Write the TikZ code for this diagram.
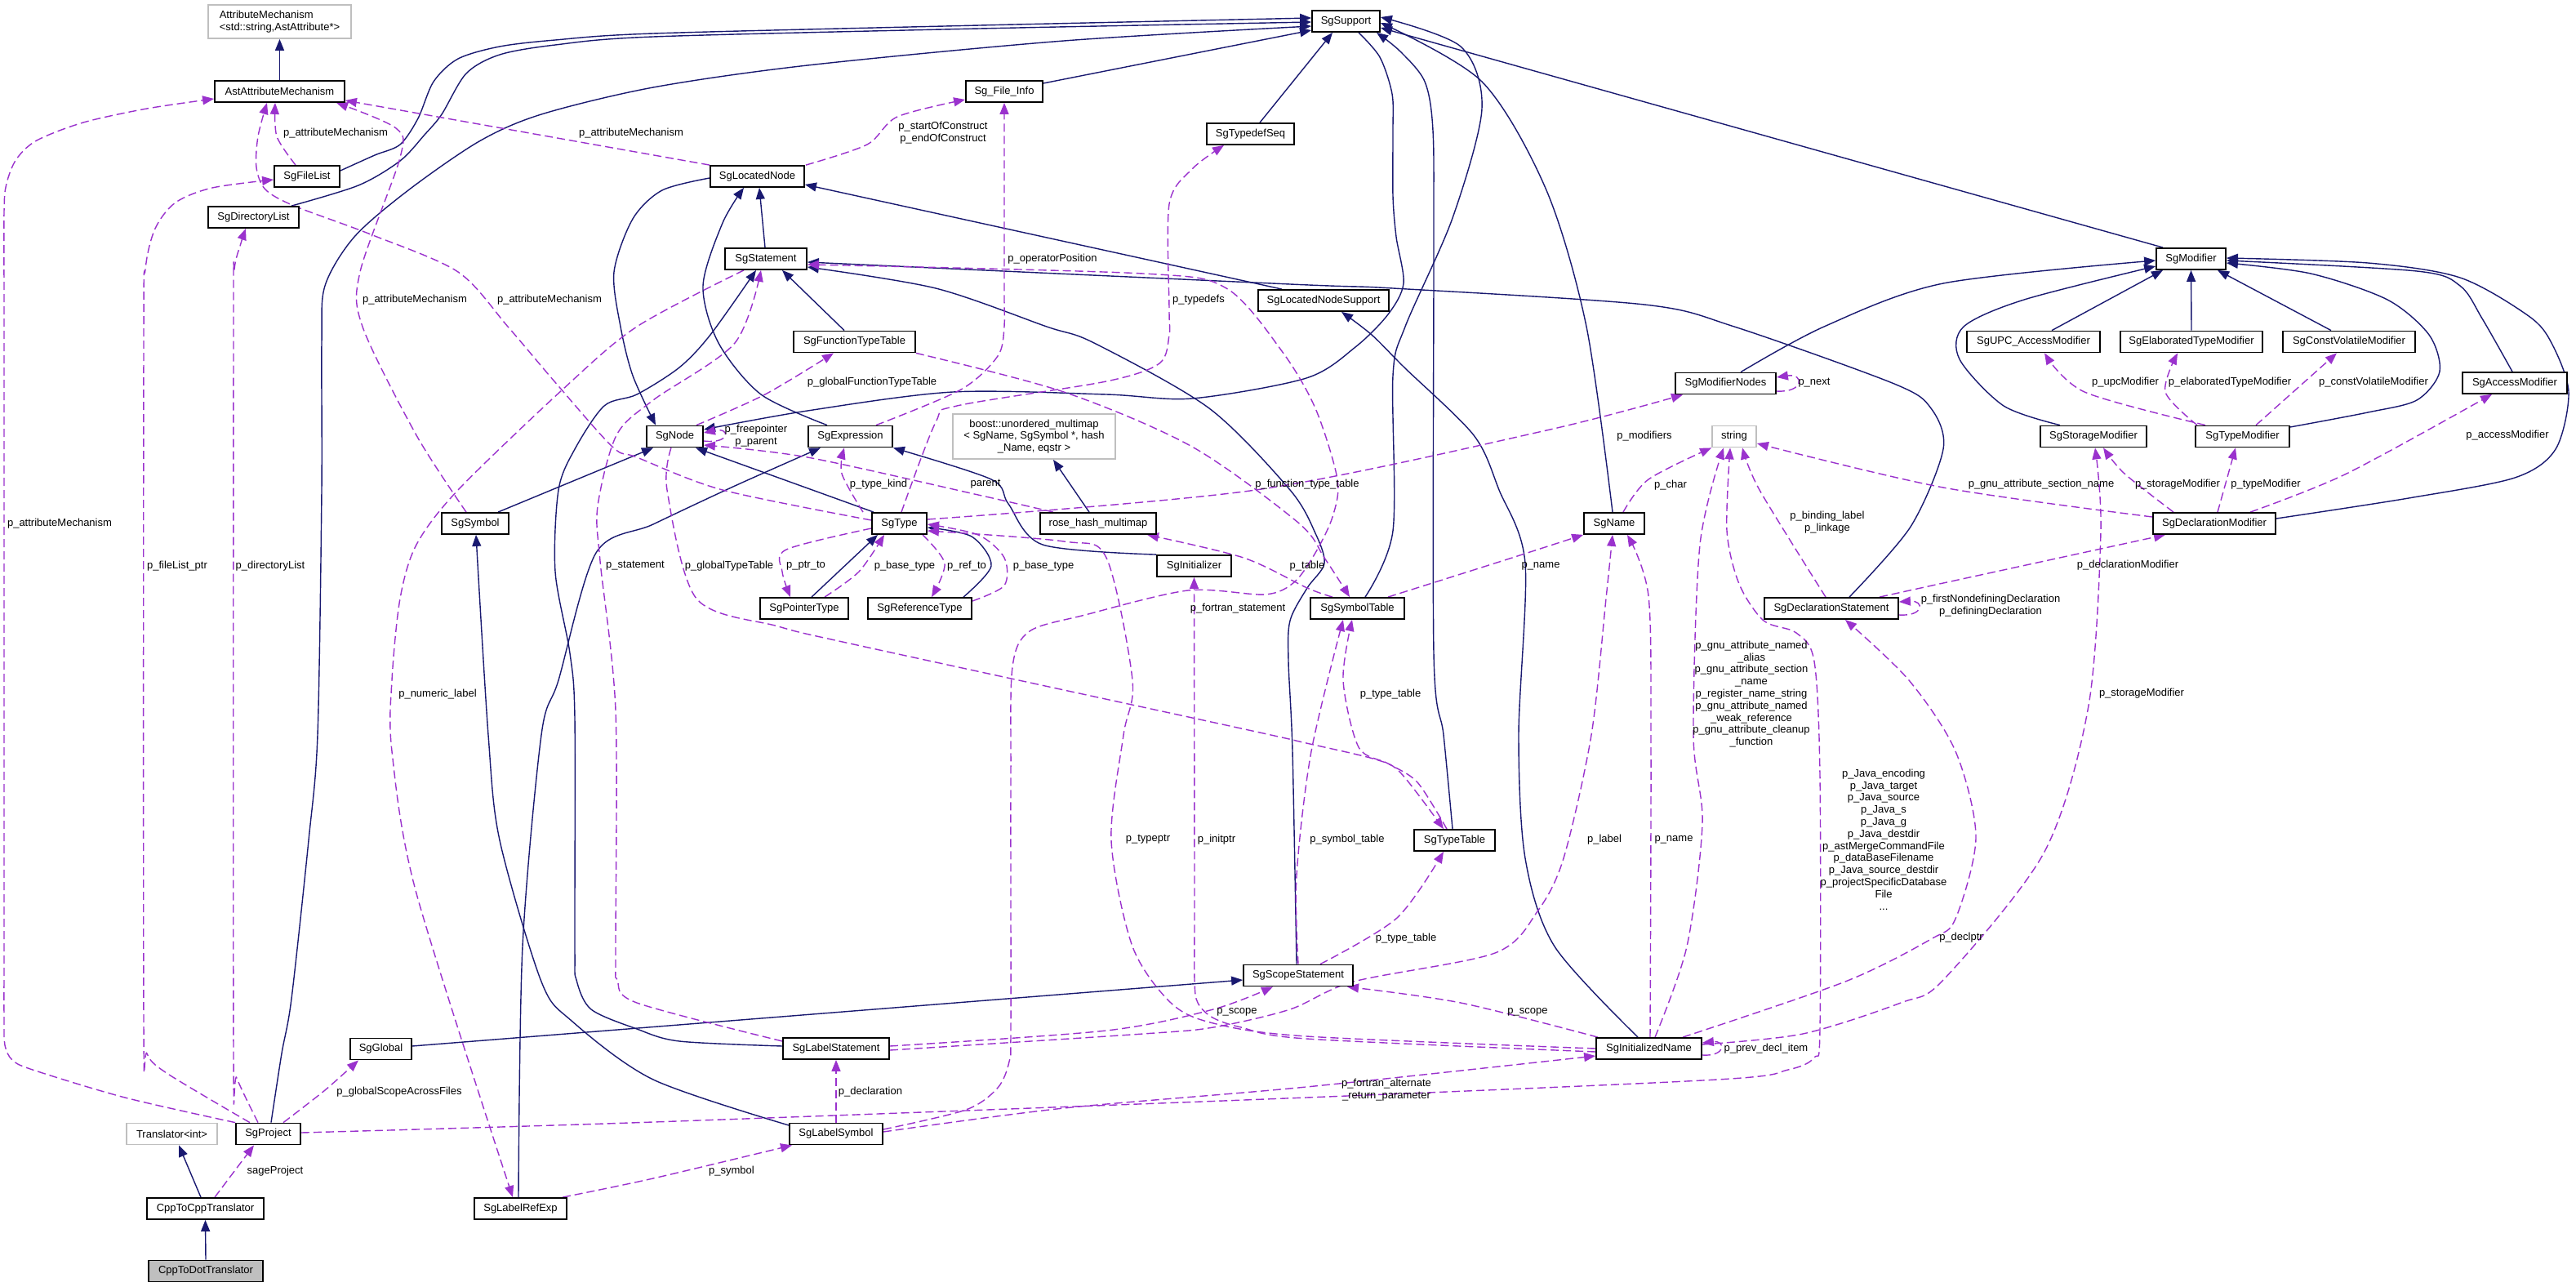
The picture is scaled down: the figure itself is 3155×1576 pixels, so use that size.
\documentclass[tikz,border=0pt]{standalone}
\usepackage{fontspec}
\setmainfont{Liberation Sans}
\usetikzlibrary{arrows.meta}
\definecolor{mblue}{HTML}{191970}
\definecolor{dorch}{HTML}{9A32CD}
\definecolor{gbox}{HTML}{BFBFBF}
\pgfdeclarelayer{bg}
\pgfsetlayers{bg,main}
\newcommand{\dfont}{\fontsize{13}{14.8}\selectfont}
\tikzset{
 cls/.style={draw=black, line width=1.8pt, fill=white, minimum height=26pt, inner sep=2pt, font=\dfont},
 ext/.style={cls, draw=gbox},
 cur/.style={cls, fill=gbox},
 lbl/.style={font=\dfont, inner sep=0pt, align=center, text=black},
 inh/.style={draw=mblue, line width=1.4pt, -{Triangle[length=14pt,width=11pt]}},
 dep/.style={draw=dorch, line width=1.4pt, dash pattern=on 10pt off 5pt, -{Triangle[length=14pt,width=11pt]}},
}
\begin{document}
\begin{tikzpicture}[x=1pt,y=-1pt]
\useasboundingbox (0,0) rectangle (3155,1576);
% ---------------- nodes
\node[ext, minimum width=175pt, minimum height=41pt, align=left] (attrmech) at (342.5,26.5) {AttributeMechanism\\<std::string,AstAttribute*>};
\node[cls, minimum width=159pt] (astattr) at (342.5,112) {AstAttributeMechanism};
\node[cls, minimum width=80pt] (filelist) at (376,216) {SgFileList};
\node[cls, minimum width=111pt] (dirlist) at (310.5,266) {SgDirectoryList};
\node[cls, minimum width=83pt] (sgsupport) at (1648.5,26) {SgSupport};
\node[cls, minimum width=94pt] (fileinfo) at (1230,112) {Sg\_File\_Info};
\node[cls, minimum width=107pt] (typedefseq) at (1531.5,164) {SgTypedefSeq};
\node[cls, minimum width=115pt] (locnode) at (927.5,216) {SgLocatedNode};
\node[cls, minimum width=100pt] (statement) at (938,317) {SgStatement};
\node[cls, minimum width=160pt] (locnodesup) at (1621,368) {SgLocatedNodeSupport};
\node[cls, minimum width=149pt] (functypetable) at (1046.5,418.5) {SgFunctionTypeTable};
\node[cls, minimum width=69pt] (sgnode) at (826.5,534.5) {SgNode};
\node[cls, minimum width=103pt] (expression) at (1041.5,534.5) {SgExpression};
\node[ext, minimum width=199pt, minimum height=55pt, align=center] (boost) at (1266.5,534.5) {boost::unordered\_multimap\\< SgName, SgSymbol *, hash\\\_Name, eqstr >};
\node[cls, minimum width=67pt] (sgtype) at (1101.5,641) {SgType};
\node[cls, minimum width=142pt] (rosehash) at (1345,641) {rose\_hash\_multimap};
\node[cls, minimum width=82pt] (sgsymbol) at (582,641) {SgSymbol};
\node[cls, minimum width=91pt] (initializer) at (1462.5,693) {SgInitializer};
\node[cls, minimum width=108pt] (pointertype) at (985,745) {SgPointerType};
\node[cls, minimum width=127pt] (referencetype) at (1126.5,745) {SgReferenceType};
\node[cls, minimum width=123pt] (modnodes) at (2113.5,469.5) {SgModifierNodes};
\node[ext, minimum width=54pt] (string) at (2124,534.5) {string};
\node[cls, minimum width=74pt] (sgname) at (1977,641) {SgName};
\node[cls, minimum width=115pt] (symtable) at (1662.5,745) {SgSymbolTable};
\node[cls, minimum width=164pt] (declstmt) at (2243,745) {SgDeclarationStatement};
\node[cls, minimum width=85pt] (sgmodifier) at (2683.5,317) {SgModifier};
\node[cls, minimum width=163pt] (upc) at (2490.5,418.5) {SgUPC\_AccessModifier};
\node[cls, minimum width=174pt] (elab) at (2684,418.5) {SgElaboratedTypeModifier};
\node[cls, minimum width=162pt] (cv) at (2877,418.5) {SgConstVolatileModifier};
\node[cls, minimum width=128pt] (access) at (3080,469) {SgAccessModifier};
\node[cls, minimum width=130pt] (storage) at (2564,534.5) {SgStorageModifier};
\node[cls, minimum width=115pt] (typemod) at (2746.5,534.5) {SgTypeModifier};
\node[cls, minimum width=150pt] (declmod) at (2712,641) {SgDeclarationModifier};
\node[cls, minimum width=99pt] (typetable) at (1781.5,1029) {SgTypeTable};
\node[cls, minimum width=134pt] (scopestmt) at (1590,1194.5) {SgScopeStatement};
\node[cls, minimum width=129pt] (initname) at (2019.5,1284) {SgInitializedName};
\node[cls, minimum width=75pt] (sgglobal) at (466.5,1284.5) {SgGlobal};
\node[cls, minimum width=130pt] (labelstmt) at (1024,1284) {SgLabelStatement};
\node[ext, minimum width=111pt] (translator) at (210.5,1388.5) {Translator<int>};
\node[cls, minimum width=79pt] (sgproject) at (328.5,1388.5) {SgProject};
\node[cls, minimum width=114pt] (labelsymbol) at (1024,1388.5) {SgLabelSymbol};
\node[cls, minimum width=143pt] (cpp2cpp) at (251.5,1480) {CppToCppTranslator};
\node[cls, minimum width=113pt] (labelrefexp) at (637.5,1480) {SgLabelRefExp};
\node[cur, minimum width=140pt] (cpp2dot) at (252,1556.5) {CppToDotTranslator};
% ---------------- edges
\begin{pgfonlayer}{bg}
\fill[white] (0,0) rectangle (3155,1576);
% inheritance
\draw[inh] (astattr.north) -- (attrmech.south);
\draw[inh] plot[smooth] coordinates {(filelist.east |- 0,209) (459,190) (490,177) (512,145) (531,100) (561,72) (612,57) (680,49) (800,41) (1200,31) (sgsupport.west |- 0,22)};
\draw[inh] plot[smooth] coordinates {(dirlist.north -| 357,0) (439,227) (490,197) (520,165) (541,140) (571,90) (612,67) (680,55) (800,45) (1200,35) (sgsupport.west |- 0,27)};
\draw[inh] plot[smooth] coordinates {(sgproject.north -| 332,0) (345,1290) (357,1223) (378,1029) (389,900) (394,600) (394,420) (398,350) (434,290) (500,233) (587,173) (663,140) (800,107) (989,80) (1303,50) (sgsupport.west |- 0,32)};
\draw[inh] (fileinfo.east |- 0,102) -- (sgsupport.west |- 0,37);
\draw[inh] (typedefseq.north -| 1543,0) -- (sgsupport.south -| 1632,0);
\draw[inh] plot[smooth] coordinates {(sgsupport.south -| 1664,0) (1690,70) (1705,115) (1706,160) (1706,240) (1710,290) (1719,347) (1700,385) (1660,425) (1600,463) (1460,488) (1355,483) (1167,480) (989,503) (sgnode.east |- 0,526)};
\draw[inh] plot[smooth] coordinates {(locnode.west |- 0,218) (811,233) (775,268) (752,333) (760,400) (775,460) (sgnode.north -| 803,0)};
\draw[inh] (statement.north -| 937,0) -- (locnode.south -| 930,0);
\draw[inh] plot[smooth] coordinates {(expression.north -| 1013,0) (932,483) (880,420) (861,350) (885,273) (locnode.south -| 911,0)};
\draw[inh] (locnodesup.north -| 1570,0) -- (locnode.east |- 0,226);
\draw[inh] (functypetable.north -| 1034,0) -- (statement.south -| 958,0);
\draw[inh] plot[smooth] coordinates {(labelstmt.west |- 0,1281) (832,1275) (780,1260) (724,1236) (706,1200) (704,1160) (704,880) (698,800) (680,700) (684,600) (704,550) (740,497) (780,483) (832,450) (870,410) (statement.south -| 926,0)};
\draw[inh] plot[smooth] coordinates {(scopestmt.north -| 1588,0) (1583,920) (1578,810) (1580,760) (1601,720) (1622,690) (1611,653) (1580,600) (1481,500) (1340,420) (1282,400) (1146,353) (statement.east |- 0,327)};
\draw[inh] plot[smooth] coordinates {(declstmt.north -| 2265,0) (2340,645) (2380,550) (2365,500) (2320,470) (2124,400) (2014,373) (1706,353) (1580,348) (statement.east |- 0,321)};
\draw[inh] (sgglobal.east |- 0,1281) -- (scopestmt.west |- 0,1200);
\draw[inh] (sgsymbol.north -| 610,0) -- (sgnode.south -| 800,0);
\draw[inh] (sgtype.north -| 1070,0) -- (sgnode.south -| 852,0);
\draw[inh] plot[smooth] coordinates {(labelsymbol.west |- 0,1378) (800,1322) (700,1250) (663,1202) (612,1029) (598,900) (sgsymbol.south -| 583,0)};
\draw[inh] plot[smooth] coordinates {(labelrefexp.north -| 635,0) (640,1159) (663,900) (684,833) (730,677) (800,642) (900,595) (expression.south -| 1005,0)};
\draw[inh] (pointertype.north -| 994,0) -- (sgtype.south -| 1075,0);
\draw[inh] plot[smooth] coordinates {(referencetype.north -| 1180,0) (1214,693) (1190,657) (sgtype.east |- 0,646)};
\draw[inh] (rosehash.north -| 1334,0) -- (boost.south -| 1290,0);
\draw[inh] plot[smooth] coordinates {(initializer.north west) (1277,667) (1235,617) (1214,587) (expression.south east)};
\draw[inh] plot[smooth] coordinates {(modnodes.north -| 2132,0) (2234,400) (2380,347) (sgmodifier.west |- 0,319)};
\draw[inh] plot[smooth] coordinates {(storage.north -| 2523,0) (2454,497) (2400,440) (2405,400) (2479,367) (sgmodifier.west |- 0,326)};
\draw[inh] (upc.north -| 2513,0) -- (sgmodifier.south -| 2649,0);
\draw[inh] (elab.north) -- (sgmodifier.south);
\draw[inh] (cv.north -| 2855,0) -- (sgmodifier.south -| 2716,0);
\draw[inh] plot[smooth] coordinates {(typemod.east |- 0,523) (2900,505) (2960,490) (2988,455) (2975,410) (2924,367) (2830,335) (sgmodifier.east |- 0,322)};
\draw[inh] plot[smooth] coordinates {(access.north -| 3077,0) (3040,390) (3013,350) (2960,332) (sgmodifier.east |- 0,319)};
\draw[inh] plot[smooth] coordinates {(declmod.east |- 0,635) (2950,610) (3080,585) (3130,550) (3146,480) (3125,420) (3097,387) (3013,340) (2900,322) (sgmodifier.east |- 0,316)};
\draw[inh] (sgmodifier.north -| 2649,0) -- (sgsupport.east |- 0,34);
\draw[inh] plot[smooth] coordinates {(sgname.north -| 1975,0) (1943,400) (1894,233) (1815,100) (sgsupport.east |- 0,28)};
\draw[inh] plot[smooth] coordinates {(symtable.north -| 1672,0) (1706,650) (1706,460) (1721,400) (1779,267) (1815,133) (1789,57) (sgsupport.east |- 0,21)};
\draw[inh] plot[smooth] coordinates {(typetable.north -| 1779,0) (1768,900) (1756,800) (1756,300) (1755,160) (1745,100) (1715,63) (sgsupport.south -| 1686,0)};
\draw[inh] plot[smooth] coordinates {(initname.north -| 2006,0) (1904,1159) (1868,1051) (1860,900) (1868,690) (1836,600) (1805,533) (1720,450) (1680,410) (locnodesup.south -| 1643,0)};
\draw[inh] (cpp2cpp.north -| 246,0) -- (translator.south -| 219,0);
\draw[inh] (cpp2dot.north) -- (cpp2cpp.south);
% usage (dashed)
\draw[dep] plot[smooth] coordinates {(sgproject.north west) (153,1344) (40,1310) (15,1298) (6,1280) (5,1250) (5,1100) (5,400) (5,260) (8,225) (20,195) (45,172) (102,150) (180,133) (astattr.west |- 0,121)};
\draw[dep] plot[smooth] coordinates {(filelist.north -| 362,0) (339,167) (astattr.south -| 337,0)};
\draw[dep] plot[smooth] coordinates {(sgtype.west |- 0,637) (885,600) (780,560) (750,547) (679,467) (622,400) (561,333) (454,287) (360,252) (325,232) (314,205) (316,167) (astattr.south -| 327,0)};
\draw[dep] plot[smooth] coordinates {(sgsymbol.north -| 571,0) (510,533) (444,400) (441,333) (490,193) (485,157) (astattr.south -| 412,0)};
\draw[dep] (locnode.north west) -- (astattr.east |- 0,123);
\draw[dep] plot[smooth] coordinates {(sgproject.north -| 306,0) (204,1314) (180,1290) (176,1250) (176,420) (178,330) (190,280) (215,248) (260,230) (filelist.west |- 0,220)};
\draw[dep] plot[smooth] coordinates {(sgproject.north -| 316,0) (290,1320) (286,1290) (286,400) (287,330) (295,298) (dirlist.south -| 301,0)};
\draw[dep] plot[smooth] coordinates {(locnode.north -| 987,0) (1062,177) (1099,143) (fileinfo.west |- 0,122)};
\draw[dep] plot[smooth] coordinates {(expression.north -| 1073,0) (1177,477) (1222,436) (1230,400) (1230,360) (fileinfo.south)};
\draw[dep] plot[smooth] coordinates {(sgtype.north -| 1104,0) (1146,517) (1172,497) (1355,467) (1420,445) (1432,410) (1432,380) (1432,250) (1460,207) (typedefseq.south -| 1499,0)};
\draw[dep] plot[smooth] coordinates {(statement.south -| 911,0) (780,400) (689,477) (561,600) (510,667) (490,733) (480,833) (480,920) (510,1094) (labelrefexp.north -| 628,0)};
\draw[dep] plot[smooth] coordinates {(labelstmt.west |- 0,1275) (780,1228) (756,1200) (754,1165) (754,870) (735,687) (732,620) (755,533) (800,490) (900,420) (statement.south -| 932,0)};
\draw[dep] plot[smooth] coordinates {(sgnode.north -| 853,0) (937,483) (functypetable.south -| 1021,0)};
\draw[dep] plot[smooth] coordinates {(sgnode.south -| 822,0) (817,600) (853,733) (953,767) (1050,790) (1520,892) (1600,910) (1685,930) (1716,947) (typetable.north -| 1768,0)};
\draw[dep] (sgnode.east |- 0,540) .. controls (895,544) and (895,523) .. (sgnode.east |- 0,530);
\draw[dep] plot[smooth] coordinates {(rosehash.north -| 1290,0) (1198,606) (989,560) (sgnode.east |- 0,545)};
\draw[dep] plot[smooth] coordinates {(sgtype.north -| 1057,0) (1031,580) (expression.south -| 1034,0)};
\draw[dep] plot[smooth] coordinates {(sgtype.west |- 0,647) (963,673) (958,700) (pointertype.north -| 968,0)};
\draw[dep] plot[smooth] coordinates {(pointertype.north -| 1010,0) (1052,700) (sgtype.south -| 1083,0)};
\draw[dep] plot[smooth] coordinates {(sgtype.south -| 1130,0) (1157,690) (referencetype.north -| 1141,0)};
\draw[dep] plot[smooth] coordinates {(referencetype.east |- 0,736) (1230,717) (1230,683) (1198,655) (sgtype.east |- 0,642)};
\draw[dep] plot[smooth] coordinates {(sgtype.east |- 0,636) (1538,600) (1894,527) (modnodes.south -| 2061,0)};
\draw[dep] (modnodes.east |- 0,479) .. controls (2210,481) and (2210,457) .. (modnodes.east |- 0,462);
\draw[dep] plot[smooth] coordinates {(functypetable.south east) (1303,480) (1460,547) (1590,640) (1622,683) (symtable.north -| 1653,0)};
\draw[dep] plot[smooth] coordinates {(symtable.north -| 1632,0) (1601,720) (1523,683) (rosehash.south -| 1405,0)};
\draw[dep] plot[smooth] coordinates {(symtable.north -| 1700,0) (1852,683) (sgname.south west)};
\draw[dep] plot[smooth] coordinates {(sgname.north -| 1988,0) (2019,587) (string.south west)};
\draw[dep] plot[smooth] coordinates {(declstmt.north -| 2236,0) (2155,600) (string.south -| 2134,0)};
\draw[dep] plot[smooth] coordinates {(declmod.west |- 0,633) (2380,597) (string.east |- 0,543)};
\draw[dep] plot[smooth] coordinates {(initname.north -| 2027,0) (2066,1159) (2085,1008) (2074,900) (2082,667) (string.south -| 2111,0)};
\draw[dep] plot[smooth] coordinates {(sgproject.east |- 0,1387) (800,1374) (1600,1344) (2103,1322) (2190,1310) (2222,1295) (2229,1260) (2229,950) (2222,810) (2200,775) (2160,760) (2130,715) (2115,650) (string.south -| 2119,0)};
\draw[dep] plot[smooth] coordinates {(initname.north -| 2021,0) (2022,920) (2019,730) (sgname.south -| 1993,0)};
\draw[dep] plot[smooth] coordinates {(labelstmt.east |- 0,1286) (1400,1266) (1486,1258) (1580,1236) (1658,1202) (1831,1167) (1883,1116) (1915,1051) (1949,900) (1967,733) (sgname.south -| 1975,0)};
\draw[dep] plot[smooth] coordinates {(initname.north -| 2061,0) (2260,1202) (2365,1150) (2395,1125) (2420,1025) (2395,920) (2338,833) (declstmt.south -| 2260,0)};
\draw[dep] plot[smooth] coordinates {(initname.east |- 0,1279) (2208,1266) (2328,1228) (2380,1200) (2504,1043) (2558,864) (2573,650) (storage.south -| 2566,0)};
\draw[dep] plot[smooth] coordinates {(declmod.north -| 2662,0) (2602,580) (storage.south -| 2576,0)};
\draw[dep] (declmod.north -| 2716,0) -- (typemod.south -| 2738,0);
\draw[dep] plot[smooth] coordinates {(declmod.north -| 2756,0) (2874,580) (access.south -| 3052,0)};
\draw[dep] plot[smooth] coordinates {(typemod.north -| 2701,0) (2553,480) (upc.south -| 2504,0)};
\draw[dep] plot[smooth] coordinates {(typemod.north -| 2691,0) (2652,480) (elab.south -| 2667,0)};
\draw[dep] (typemod.north -| 2763,0) -- (cv.south -| 2862,0);
\draw[dep] plot[smooth] coordinates {(declstmt.north -| 2302,0) (2380,714) (declmod.south -| 2652,0)};
\draw[dep] (declstmt.east |- 0,753) .. controls (2357,755) and (2357,735) .. (declstmt.east |- 0,737);
\draw[dep] plot[smooth] coordinates {(scopestmt.north -| 1590,0) (1588,1072) (1606,920) (symtable.south -| 1645,0)};
\draw[dep] plot[smooth] coordinates {(scopestmt.north -| 1617,0) (1711,1124) (typetable.south -| 1768,0)};
\draw[dep] plot[smooth] coordinates {(typetable.north -| 1772,0) (1736,958) (1700,935) (1664,915) (1645,833) (symtable.south -| 1656,0)};
\draw[dep] plot[smooth] coordinates {(initname.north -| 1957,0) (1789,1228) (scopestmt.south -| 1650,0)};
\draw[dep] plot[smooth] coordinates {(labelstmt.east |- 0,1281) (1355,1262) (1486,1236) (scopestmt.south -| 1559,0)};
\draw[dep] (initname.east |- 0,1292) .. controls (2114,1294) and (2114,1274) .. (initname.east |- 0,1277);
\draw[dep] plot[smooth] coordinates {(initname.west |- 0,1284) (1600,1269) (1486,1253) (1434,1228) (1387,1159) (1361,1029) (1376,900) (1387,833) (1355,683) (1303,663) (sgtype.east |- 0,650)};
\draw[dep] plot[smooth] coordinates {(initname.west |- 0,1288) (1600,1272) (1520,1258) (1485,1246) (1467,1228) (1463,1200) (1463,1100) (initializer.south)};
\draw[dep] plot[smooth] coordinates {(labelsymbol.east |- 0,1383) (1183,1359) (1222,1332) (1236,1300) (1238,1260) (1238,950) (1240,817) (1261,773) (1329,753) (1455,723) (1549,728) (1585,713) (1611,677) (1632,633) (1638,587) (1611,500) (1570,430) (1502,353) (1400,335) (statement.east |- 0,324)};
\draw[dep] (labelsymbol.north) -- (labelstmt.south);
\draw[dep] plot[smooth] coordinates {(labelrefexp.north -| 689,0) (800,1443) (labelsymbol.south -| 970,0)};
\draw[dep] plot[smooth] coordinates {(labelsymbol.east |- 0,1386) (1303,1357) (1600,1331) (initname.west |- 0,1293)};
\draw[dep] plot[smooth] coordinates {(sgproject.north -| 347,0) (398,1335) (sgglobal.south -| 439,0)};
\draw[dep] (cpp2cpp.north -| 263,0) -- (sgproject.south -| 311,0);
\end{pgfonlayer}
% ---------------- labels
\node[lbl] (l1) at (73,641) {p\_attributeMechanism};
\node[lbl] (l2) at (411,163) {p\_attributeMechanism};
\node[lbl] (l3) at (673,367) {p\_attributeMechanism};
\node[lbl] (l4) at (508,367) {p\_attributeMechanism};
\node[lbl] (l5) at (773,163) {p\_attributeMechanism};
\node[lbl] (l6) at (217,693) {p\_fileList\_ptr};
\node[lbl] (l7) at (331,693) {p\_directoryList};
\node[lbl] (l8) at (1155,163) {p\_startOfConstruct\\p\_endOfConstruct};
\node[lbl] (l9) at (1289,317) {p\_operatorPosition};
\node[lbl] (l10) at (1468,367) {p\_typedefs};
\node[lbl] (l11) at (536,850) {p\_numeric\_label};
\node[lbl] (l12) at (778,693) {p\_statement};
\node[lbl] (l13) at (1068,468) {p\_globalFunctionTypeTable};
\node[lbl] (l14) at (893,693) {p\_globalTypeTable};
\node[lbl] (l15) at (926,534) {p\_freepointer\\p\_parent};
\node[lbl] (l16) at (1207,593) {parent};
\node[lbl] (l17) at (1076,593) {p\_type\_kind};
\node[lbl] (l18) at (987,693) {p\_ptr\_to};
\node[lbl] (l19) at (1108,693) {p\_base\_type};
\node[lbl] (l20) at (1184,693) {p\_ref\_to};
\node[lbl] (l21) at (1278,693) {p\_base\_type};
\node[lbl] (l22) at (2014,534) {p\_modifiers};
\node[lbl] (l23) at (2222,469) {p\_next};
\node[lbl] (l24) at (1601,593) {p\_function\_type\_table};
\node[lbl] (l25) at (1601,693) {p\_table};
\node[lbl] (l26) at (1887,693) {p\_name};
\node[lbl] (l27) at (2046,594) {p\_char};
\node[lbl] (l28) at (2238,640) {p\_binding\_label\\p\_linkage};
\node[lbl] (l29) at (2500,593) {p\_gnu\_attribute\_section\_name};
\node[lbl] (l30) at (2145,850) {p\_gnu\_attribute\_named\\\_alias\\p\_gnu\_attribute\_section\\\_name\\p\_register\_name\_string\\p\_gnu\_attribute\_named\\\_weak\_reference\\p\_gnu\_attribute\_cleanup\\\_function};
\node[lbl] (l31) at (2307,1028) {p\_Java\_encoding\\p\_Java\_target\\p\_Java\_source\\p\_Java\_s\\p\_Java\_g\\p\_Java\_destdir\\p\_astMergeCommandFile\\p\_dataBaseFilename\\p\_Java\_source\_destdir\\p\_projectSpecificDatabase\\File\\...};
\node[lbl] (l32) at (2050,1028) {p\_name};
\node[lbl] (l33) at (1965,1028) {p\_label};
\node[lbl] (l34) at (2402,1148) {p\_declptr};
\node[lbl] (l35) at (2623,849) {p\_storageModifier};
\node[lbl] (l36) at (2667,593) {p\_storageModifier};
\node[lbl] (l37) at (2775,593) {p\_typeModifier};
\node[lbl] (l38) at (3071,533) {p\_accessModifier};
\node[lbl] (l39) at (2603,468) {p\_upcModifier};
\node[lbl] (l40) at (2731,468) {p\_elaboratedTypeModifier};
\node[lbl] (l41) at (2907,468) {p\_constVolatileModifier};
\node[lbl] (l42) at (2606,692) {p\_declarationModifier};
\node[lbl] (l43) at (2438,742) {p\_firstNondefiningDeclaration\\p\_definingDeclaration};
\node[lbl] (l44) at (1650,1028) {p\_symbol\_table};
\node[lbl] (l45) at (1722,1149) {p\_type\_table};
\node[lbl] (l46) at (1703,850) {p\_type\_table};
\node[lbl] (l47) at (1871,1239) {p\_scope};
\node[lbl] (l48) at (1515,1239) {p\_scope};
\node[lbl] (l49) at (2163,1284) {p\_prev\_decl\_item};
\node[lbl] (l50) at (1406,1028) {p\_typeptr};
\node[lbl] (l51) at (1490,1028) {p\_initptr};
\node[lbl] (l52) at (1516,745) {p\_fortran\_statement};
\node[lbl] (l53) at (1066,1337) {p\_declaration};
\node[lbl] (l54) at (896,1434) {p\_symbol};
\node[lbl] (l55) at (1698,1335) {p\_fortran\_alternate\\\_return\_parameter};
\node[lbl] (l56) at (489,1337) {p\_globalScopeAcrossFiles};
\node[lbl] (l57) at (337,1434) {sageProject};
\end{tikzpicture}
\end{document}
